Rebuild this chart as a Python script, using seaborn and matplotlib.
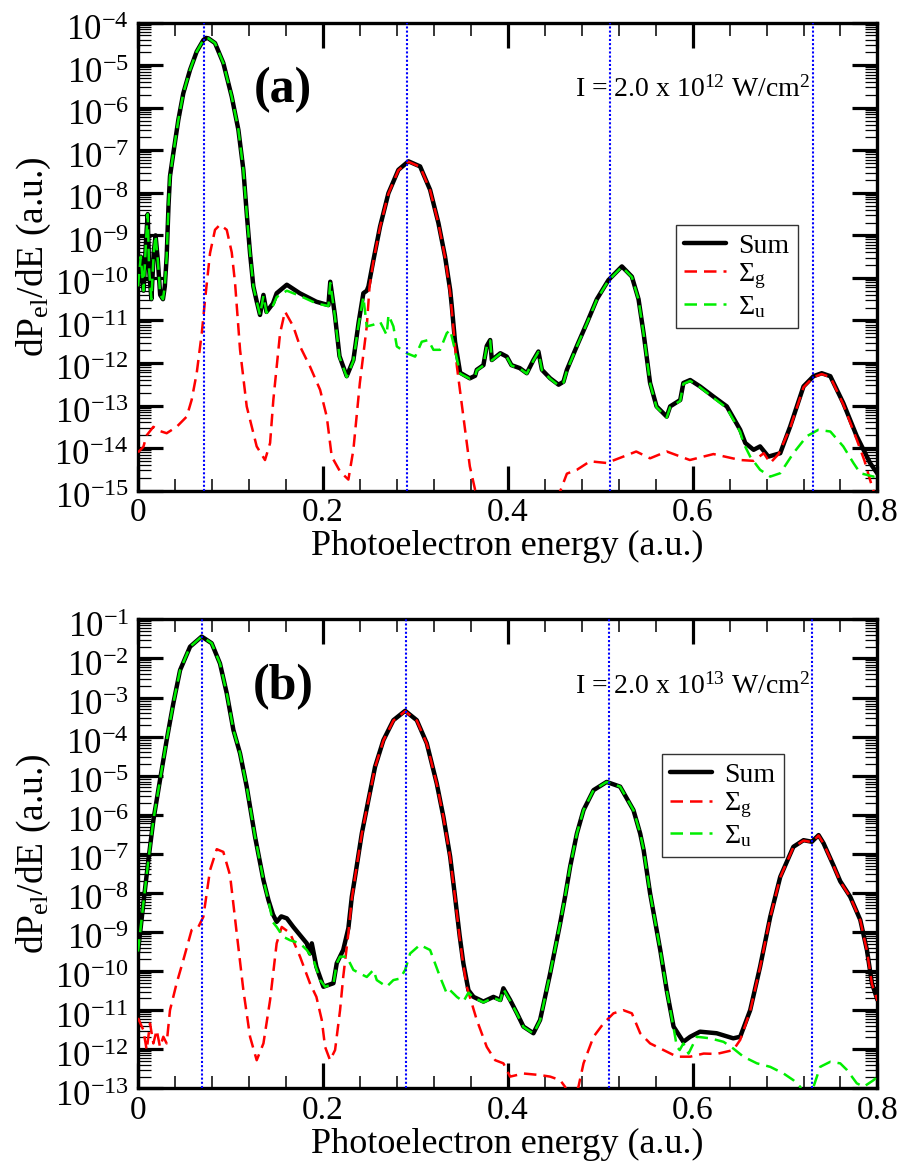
import numpy as np
import pandas as pd
import matplotlib
matplotlib.use("Agg")
import matplotlib.pyplot as plt
import seaborn as sns
from matplotlib.ticker import FixedLocator, FixedFormatter, MultipleLocator, LogLocator, NullFormatter
from matplotlib.transforms import ScaledTranslation

# ---------------- data (x = photoelectron energy, value = log10 dP/dE) ----------------
A_SUM = [(0.000,-10.2),(0.003,-9.5),(0.006,-10.3),(0.009,-9.0),(0.0105,-8.5),(0.012,-9.8),(0.0145,-10.5),(0.017,-9.4),(0.019,-9.0),(0.0215,-9.6),(0.024,-10.4),(0.027,-10.5),(0.029,-10.2),(0.031,-9.5),(0.033,-8.3),(0.0346,-7.61),(0.0382,-7.07),(0.0436,-6.29),(0.049,-5.66),(0.0563,-5.11),(0.0635,-4.68),(0.0707,-4.41),(0.0736,-4.36),(0.0761,-4.37),(0.0833,-4.48),(0.0923,-4.95),(0.1014,-5.74),(0.1086,-6.52),(0.114,-7.46),(0.1176,-8.48),(0.1212,-9.42),(0.1248,-10.2),(0.1284,-10.55),(0.132,-10.87),(0.1357,-10.4),(0.139,-10.8),(0.146,-10.6),(0.150,-10.36),(0.161,-10.16),(0.175,-10.36),(0.193,-10.56),(0.206,-10.64),(0.208,-10.09),(0.213,-10.87),(0.218,-11.84),(0.2258,-12.31),(0.233,-11.93),(0.2386,-11.06),(0.2438,-10.36),(0.2475,-10.3),(0.2493,-10.2),(0.2547,-9.58),(0.2619,-8.79),(0.2709,-8.01),(0.2817,-7.46),(0.2926,-7.26),(0.3052,-7.38),(0.316,-7.93),(0.325,-8.71),(0.3322,-9.5),(0.3377,-10.28),(0.3395,-10.67),(0.343,-11.5),(0.3485,-12.23),(0.359,-12.36),(0.3647,-12.3),(0.3665,-12.16),(0.3737,-12.05),(0.3773,-11.6),(0.381,-11.46),(0.3828,-11.93),(0.392,-11.77),(0.399,-11.85),(0.404,-12.05),(0.413,-12.12),(0.4206,-12.24),(0.4278,-11.93),(0.4332,-11.73),(0.437,-12.16),(0.4459,-12.36),(0.455,-12.51),(0.4603,-12.44),(0.464,-12.16),(0.4748,-11.6),(0.4856,-11.06),(0.4964,-10.5),(0.509,-10.05),(0.5235,-9.73),(0.5343,-9.97),(0.5415,-10.5),(0.547,-11.3),(0.554,-12.47),(0.561,-13.02),(0.572,-13.26),(0.5757,-13.02),(0.5866,-12.87),(0.590,-12.47),(0.5974,-12.4),(0.608,-12.55),(0.6226,-12.79),(0.637,-13.02),(0.6515,-13.57),(0.657,-13.88),(0.666,-14.04),(0.673,-13.96),(0.682,-14.2),(0.6948,-14.12),(0.7056,-13.49),(0.720,-12.55),(0.7308,-12.31),(0.7397,-12.24),(0.749,-12.31),(0.763,-12.94),(0.7776,-13.72),(0.792,-14.35),(0.800,-14.6)]

A_G = [(0.000,-14.1),(0.0058,-13.97),(0.0094,-13.7),(0.0166,-13.5),(0.0238,-13.6),(0.031,-13.65),(0.0418,-13.5),(0.0527,-13.26),(0.058,-12.87),(0.0635,-12.24),(0.069,-11.3),(0.0725,-10.52),(0.0779,-9.42),(0.0833,-8.87),(0.0887,-8.75),(0.096,-8.87),(0.1014,-9.4),(0.105,-10.12),(0.1104,-11.69),(0.1176,-13.02),(0.1284,-13.96),(0.1374,-14.28),(0.1429,-13.88),(0.1464,-12.87),(0.1537,-11.3),(0.159,-10.79),(0.168,-11.14),(0.1753,-11.61),(0.186,-12.08),(0.197,-12.63),(0.2042,-13.26),(0.2096,-14.2),(0.2186,-14.55),(0.2276,-14.74),(0.233,-14.04),(0.240,-12.47),(0.2475,-11.14),(0.2505,-10.2),(0.2547,-9.6),(0.2619,-8.8),(0.2709,-8.02),(0.2817,-7.47),(0.2926,-7.27),(0.3052,-7.39),(0.316,-7.94),(0.325,-8.72),(0.3322,-9.52),(0.3377,-10.35),(0.345,-12.08),(0.352,-13.26),(0.359,-14.43),(0.3647,-14.98),(0.41,-16.5),(0.457,-15.0),(0.464,-14.6),(0.4748,-14.51),(0.489,-14.31),(0.507,-14.35),(0.525,-14.2),(0.539,-14.08),(0.554,-14.24),(0.572,-14.08),(0.597,-14.28),(0.6226,-14.14),(0.6515,-14.28),(0.666,-14.3),(0.677,-14.12),(0.684,-14.35),(0.693,-14.14),(0.7056,-13.52),(0.720,-12.57),(0.7308,-12.33),(0.7397,-12.26),(0.749,-12.33),(0.763,-12.97),(0.7776,-13.8),(0.786,-14.3),(0.792,-14.75),(0.800,-15.3)]

A_U = [(0.000,-10.2),(0.003,-9.5),(0.006,-10.3),(0.009,-9.0),(0.0105,-8.5),(0.012,-9.8),(0.0145,-10.5),(0.017,-9.4),(0.019,-9.0),(0.0215,-9.6),(0.024,-10.4),(0.027,-10.5),(0.029,-10.2),(0.031,-9.5),(0.033,-8.3),(0.0346,-7.61),(0.0382,-7.07),(0.0436,-6.29),(0.049,-5.66),(0.0563,-5.11),(0.0635,-4.68),(0.0707,-4.41),(0.0736,-4.36),(0.0761,-4.37),(0.0833,-4.48),(0.0923,-4.95),(0.1014,-5.74),(0.1086,-6.52),(0.114,-7.46),(0.1176,-8.48),(0.1212,-9.42),(0.1248,-10.2),(0.1284,-10.55),(0.132,-10.87),(0.1357,-10.42),(0.139,-10.82),(0.146,-10.65),(0.150,-10.45),(0.161,-10.3),(0.175,-10.42),(0.193,-10.6),(0.206,-10.66),(0.208,-10.12),(0.213,-10.9),(0.218,-11.86),(0.2258,-12.33),(0.233,-11.95),(0.2386,-11.1),(0.2438,-10.45),(0.2475,-11.14),(0.2547,-11.1),(0.2619,-11.03),(0.269,-11.34),(0.271,-10.87),(0.2763,-11.14),(0.280,-11.61),(0.2907,-11.77),(0.2998,-11.85),(0.307,-11.5),(0.314,-11.46),(0.3196,-11.69),(0.3268,-11.69),(0.334,-11.3),(0.3377,-11.22),(0.343,-11.7),(0.3485,-12.25),(0.359,-12.37),(0.3647,-12.31),(0.3665,-12.17),(0.3737,-12.06),(0.3773,-11.61),(0.381,-11.47),(0.3828,-11.94),(0.392,-11.78),(0.399,-11.86),(0.404,-12.06),(0.413,-12.13),(0.4206,-12.25),(0.4278,-11.94),(0.4332,-11.74),(0.437,-12.17),(0.4459,-12.37),(0.455,-12.53),(0.4603,-12.46),(0.464,-12.18),(0.4748,-11.61),(0.4856,-11.07),(0.4964,-10.51),(0.509,-10.06),(0.5235,-9.74),(0.5343,-9.98),(0.5415,-10.51),(0.547,-11.31),(0.554,-12.48),(0.561,-13.04),(0.572,-13.28),(0.5757,-13.04),(0.5866,-12.89),(0.590,-12.49),(0.5974,-12.42),(0.608,-12.57),(0.6226,-12.82),(0.637,-13.06),(0.6515,-13.62),(0.655,-13.88),(0.6623,-14.2),(0.673,-14.51),(0.684,-14.67),(0.6948,-14.59),(0.709,-14.12),(0.7236,-13.72),(0.736,-13.57),(0.749,-13.61),(0.763,-13.96),(0.774,-14.35),(0.7814,-14.59),(0.7958,-14.67),(0.800,-14.65)]

B_SUM = [(0.000,-9.5),(0.0058,-8.27),(0.0112,-7.16),(0.0166,-6.14),(0.0238,-5.11),(0.031,-4.09),(0.0382,-3.15),(0.0455,-2.3),(0.0563,-1.7),(0.0689,-1.44),(0.0797,-1.61),(0.0887,-2.13),(0.096,-2.89),(0.1032,-3.83),(0.1104,-4.43),(0.1176,-5.28),(0.1266,-6.56),(0.1357,-7.67),(0.1411,-8.18),(0.146,-8.55),(0.150,-8.74),(0.155,-8.6),(0.161,-8.65),(0.168,-8.87),(0.1826,-9.29),(0.186,-9.55),(0.188,-9.29),(0.193,-9.89),(0.2006,-10.4),(0.2114,-10.31),(0.215,-9.8),(0.222,-9.46),(0.2276,-8.9),(0.2313,-8.1),(0.2348,-7.59),(0.2421,-6.48),(0.2493,-5.62),(0.2565,-4.77),(0.2655,-4.09),(0.2763,-3.58),(0.289,-3.34),(0.3016,-3.58),(0.3124,-4.17),(0.3232,-5.2),(0.3304,-6.05),(0.3377,-7.07),(0.343,-8.1),(0.348,-9.1),(0.352,-9.8),(0.3575,-10.49),(0.363,-10.66),(0.3737,-10.78),(0.3845,-10.66),(0.392,-10.74),(0.3953,-10.44),(0.4026,-10.74),(0.410,-11.08),(0.417,-11.42),(0.4278,-11.59),(0.435,-11.25),(0.4459,-10.06),(0.4567,-8.78),(0.462,-8.1),(0.4675,-7.33),(0.4748,-6.48),(0.482,-5.88),(0.4928,-5.37),(0.507,-5.16),(0.5216,-5.28),(0.536,-5.88),(0.5433,-6.48),(0.547,-6.9),(0.554,-8.01),(0.565,-9.46),(0.572,-10.49),(0.5794,-11.42),(0.590,-11.81),(0.5974,-11.68),(0.608,-11.55),(0.626,-11.59),(0.644,-11.72),(0.6515,-11.68),(0.6623,-11.0),(0.673,-9.89),(0.684,-8.61),(0.6948,-7.59),(0.709,-6.82),(0.720,-6.65),(0.729,-6.69),(0.7363,-6.52),(0.7417,-6.73),(0.7525,-7.3),(0.7597,-7.7),(0.7706,-8.1),(0.7814,-8.69),(0.7886,-9.46),(0.794,-10.31),(0.800,-10.74)]

B_G = [(0.000,-11.2),(0.0058,-11.51),(0.0094,-12.02),(0.013,-11.34),(0.0166,-11.85),(0.0202,-11.51),(0.0238,-11.94),(0.0274,-11.68),(0.031,-11.85),(0.0346,-11.0),(0.0418,-10.31),(0.049,-9.72),(0.058,-8.95),(0.0653,-8.87),(0.0707,-8.61),(0.0779,-7.42),(0.0852,-6.88),(0.0923,-6.95),(0.0996,-7.55),(0.1068,-9.03),(0.114,-10.49),(0.1212,-11.68),(0.1284,-12.28),(0.1357,-11.85),(0.1429,-10.74),(0.150,-9.29),(0.1555,-8.87),(0.1645,-9.03),(0.1753,-9.63),(0.186,-10.31),(0.193,-10.66),(0.1988,-11.25),(0.2024,-11.94),(0.2078,-12.28),(0.2132,-12.02),(0.2186,-11.0),(0.222,-10.15),(0.2276,-9.03),(0.2313,-8.15),(0.2348,-7.6),(0.2421,-6.49),(0.2493,-5.63),(0.2565,-4.78),(0.2655,-4.1),(0.2763,-3.59),(0.289,-3.35),(0.3016,-3.59),(0.3124,-4.18),(0.3232,-5.21),(0.3304,-6.06),(0.3377,-7.09),(0.343,-8.12),(0.348,-9.15),(0.352,-9.85),(0.3557,-10.4),(0.3665,-11.25),(0.3773,-11.94),(0.3864,-12.28),(0.3953,-12.36),(0.4026,-12.7),(0.417,-12.62),(0.435,-12.66),(0.4459,-12.7),(0.4567,-12.79),(0.462,-12.96),(0.469,-13.4),(0.4765,-12.96),(0.482,-12.36),(0.4928,-11.68),(0.5036,-11.34),(0.5144,-11.08),(0.525,-11.0),(0.5343,-11.08),(0.5433,-11.59),(0.554,-11.85),(0.5685,-12.02),(0.583,-12.19),(0.5974,-12.19),(0.612,-12.11),(0.626,-12.12),(0.644,-12.02),(0.6515,-11.76),(0.6623,-11.02),(0.673,-9.9),(0.684,-8.62),(0.6948,-7.6),(0.709,-6.83),(0.720,-6.66),(0.729,-6.7),(0.7363,-6.53),(0.7417,-6.74),(0.7525,-7.31),(0.7597,-7.71),(0.7706,-8.11),(0.7814,-8.7),(0.7886,-9.48),(0.794,-10.33),(0.800,-10.76)]

B_U = [(0.000,-9.5),(0.0058,-8.27),(0.0112,-7.16),(0.0166,-6.14),(0.0238,-5.11),(0.031,-4.09),(0.0382,-3.15),(0.0455,-2.3),(0.0563,-1.7),(0.0689,-1.44),(0.0797,-1.61),(0.0887,-2.13),(0.096,-2.89),(0.1032,-3.83),(0.1104,-4.43),(0.1176,-5.28),(0.1266,-6.56),(0.1357,-7.67),(0.1411,-8.2),(0.146,-8.75),(0.150,-8.87),(0.157,-9.12),(0.1645,-9.21),(0.1753,-9.29),(0.1826,-9.46),(0.190,-9.72),(0.197,-10.23),(0.2024,-10.4),(0.2114,-10.33),(0.215,-9.8),(0.2186,-9.63),(0.2258,-9.63),(0.233,-9.97),(0.240,-10.06),(0.2475,-10.15),(0.2547,-9.97),(0.2583,-10.23),(0.269,-10.4),(0.2763,-10.23),(0.2835,-10.19),(0.289,-9.97),(0.2944,-9.55),(0.305,-9.33),(0.316,-9.46),(0.3268,-10.15),(0.334,-10.57),(0.3377,-10.49),(0.345,-10.66),(0.352,-10.78),(0.3575,-10.55),(0.363,-10.68),(0.3737,-10.8),(0.3845,-10.68),(0.392,-10.76),(0.3953,-10.46),(0.4026,-10.76),(0.410,-11.09),(0.417,-11.43),(0.4278,-11.6),(0.435,-11.26),(0.4459,-10.06),(0.4567,-8.78),(0.462,-8.1),(0.4675,-7.33),(0.4748,-6.48),(0.482,-5.88),(0.4928,-5.37),(0.507,-5.16),(0.5216,-5.28),(0.536,-5.88),(0.5433,-6.48),(0.547,-6.9),(0.554,-8.01),(0.565,-9.46),(0.572,-10.49),(0.5794,-11.45),(0.583,-11.94),(0.586,-12.02),(0.590,-11.85),(0.5956,-12.11),(0.6046,-11.68),(0.619,-11.72),(0.6335,-11.81),(0.644,-11.98),(0.655,-12.19),(0.6696,-12.36),(0.684,-12.45),(0.6984,-12.62),(0.709,-12.79),(0.7164,-12.96),(0.723,-13.4),(0.7308,-12.96),(0.738,-12.45),(0.749,-12.32),(0.7597,-12.36),(0.767,-12.53),(0.7776,-12.87),(0.785,-12.96),(0.7958,-12.79),(0.800,-12.7)]

A_VLINES = [0.0715, 0.291, 0.511, 0.730]
B_VLINES = [0.0695, 0.2895, 0.5095, 0.7295]
A_YEXP = list(range(-15, -3))
B_YEXP = list(range(-13, 0))
X_TICKS = [0.0, 0.2, 0.4, 0.6, 0.8]
X_TICKLABELS = ["0", "0.2", "0.4", "0.6", "0.8"]
LEGEND_LABELS = ["Sum", r"$\Sigma_{\mathrm{g}}$", r"$\Sigma_{\mathrm{u}}$"]
A_TEXT = r"I = 2.0 x 10$^{12}$ W/cm$^{2}$"
B_TEXT = r"I = 2.0 x 10$^{13}$ W/cm$^{2}$"

# ---------------- style ----------------
sns.set_theme(style="ticks")
plt.rcParams["font.family"] = ["Liberation Serif", "DejaVu Serif"]
plt.rcParams["mathtext.fontset"] = "custom"
plt.rcParams["mathtext.rm"] = "Liberation Serif"
plt.rcParams["mathtext.it"] = "Liberation Serif:italic"
plt.rcParams["mathtext.bf"] = "Liberation Serif:bold"
for key in ["text.color", "axes.labelcolor", "xtick.color", "ytick.color", "axes.edgecolor"]:
    plt.rcParams[key] = "black"

fig = plt.figure(figsize=(9.02, 11.66), dpi=100)
ax_a = fig.add_axes([0.1530, 0.5792, 0.8198, 0.4014])
ax_b = fig.add_axes([0.1530, 0.0666, 0.8198, 0.4022])


def to_df(pairs):
    d = pd.DataFrame(pairs, columns=["E", "logP"])
    d["P"] = np.power(10.0, d["logP"])
    return d


def panel(ax, s_sum, s_g, s_u, vlines, yexp, tag, text, leg_anchor):
    sns.lineplot(data=to_df(s_sum), x="E", y="P", ax=ax, color="black",
                 linewidth=3.2, estimator=None, sort=False, zorder=3)
    sns.lineplot(data=to_df(s_g), x="E", y="P", ax=ax, color="#ff0000",
                 linewidth=1.8, linestyle=(0, (5, 2.8)), estimator=None, sort=False, zorder=4)
    sns.lineplot(data=to_df(s_u), x="E", y="P", ax=ax, color="#00ee00",
                 linewidth=1.8, linestyle=(0, (5, 2.8)), estimator=None, sort=False, zorder=5)
    handles = list(ax.lines[:3])
    for xv in vlines:
        ax.axvline(xv, color="#0000ff", linewidth=1.5, linestyle=(0, (1, 1)), zorder=6)

    ax.set_yscale("log")
    ax.set_xlim(0, 0.8)
    ax.set_ylim(10.0 ** yexp[0], 10.0 ** yexp[-1])

    ax.xaxis.set_major_locator(FixedLocator(X_TICKS))
    ax.xaxis.set_major_formatter(FixedFormatter(X_TICKLABELS))
    ax.xaxis.set_minor_locator(MultipleLocator(0.04))
    ax.yaxis.set_major_locator(FixedLocator([10.0 ** e for e in yexp]))
    ax.yaxis.set_major_formatter(FixedFormatter([r"$10^{%d}$" % e for e in yexp]))
    ax.yaxis.set_minor_locator(LogLocator(base=10, subs=np.arange(2, 10), numticks=200))
    ax.yaxis.set_minor_formatter(NullFormatter())

    ax.tick_params(which="both", direction="in", top=True, right=True, colors="black")
    ax.tick_params(which="major", length=18, width=2.3)
    ax.tick_params(axis="y", which="major", labelsize=25, pad=6.5)
    ax.tick_params(axis="x", which="major", labelsize=24, pad=5)
    ax.tick_params(axis="y", which="minor", length=9, width=0.9)
    ax.tick_params(axis="x", which="minor", length=9, width=1.1)
    for sp in ax.spines.values():
        sp.set_linewidth(2.4)
        sp.set_color("black")

    offset = ScaledTranslation(0, -3.5 / 72, fig.dpi_scale_trans)
    for t in ax.yaxis.get_major_ticks():
        t.label1.set_transform(t.label1.get_transform() + offset)

    ax.set_xlabel("Photoelectron energy (a.u.)", fontsize=26)
    ax.set_ylabel(r"dP$_{\mathrm{el}}$/dE (a.u.)", fontsize=27)
    ax.xaxis.set_label_coords(0.5, -0.085)
    ax.yaxis.set_label_coords(-0.115, 0.5)

    ax.text(0.196, 0.856, tag, transform=ax.transAxes, fontsize=36, fontweight="bold",
            ha="center", va="center", color="black")
    ax.text(0.909, 0.842, text, transform=ax.transAxes, fontsize=20,
            ha="right", va="baseline", color="black")

    leg = ax.legend(handles, LEGEND_LABELS, loc="upper left", bbox_to_anchor=leg_anchor,
                    frameon=True, fancybox=False, framealpha=1, edgecolor="#333333",
                    fontsize=20, handlelength=1.5, handletextpad=0.45, labelspacing=0.1,
                    borderpad=0.3, borderaxespad=0)
    leg.get_frame().set_linewidth(1.0)
    for t in leg.get_texts():
        t.set_color("black")


panel(ax_a, A_SUM, A_G, A_U, A_VLINES, A_YEXP, "(a)", A_TEXT, (0.727, 0.568))
panel(ax_b, B_SUM, B_G, B_U, B_VLINES, B_YEXP, "(b)", B_TEXT, (0.708, 0.713))

fig.savefig("out.png", dpi=100)
